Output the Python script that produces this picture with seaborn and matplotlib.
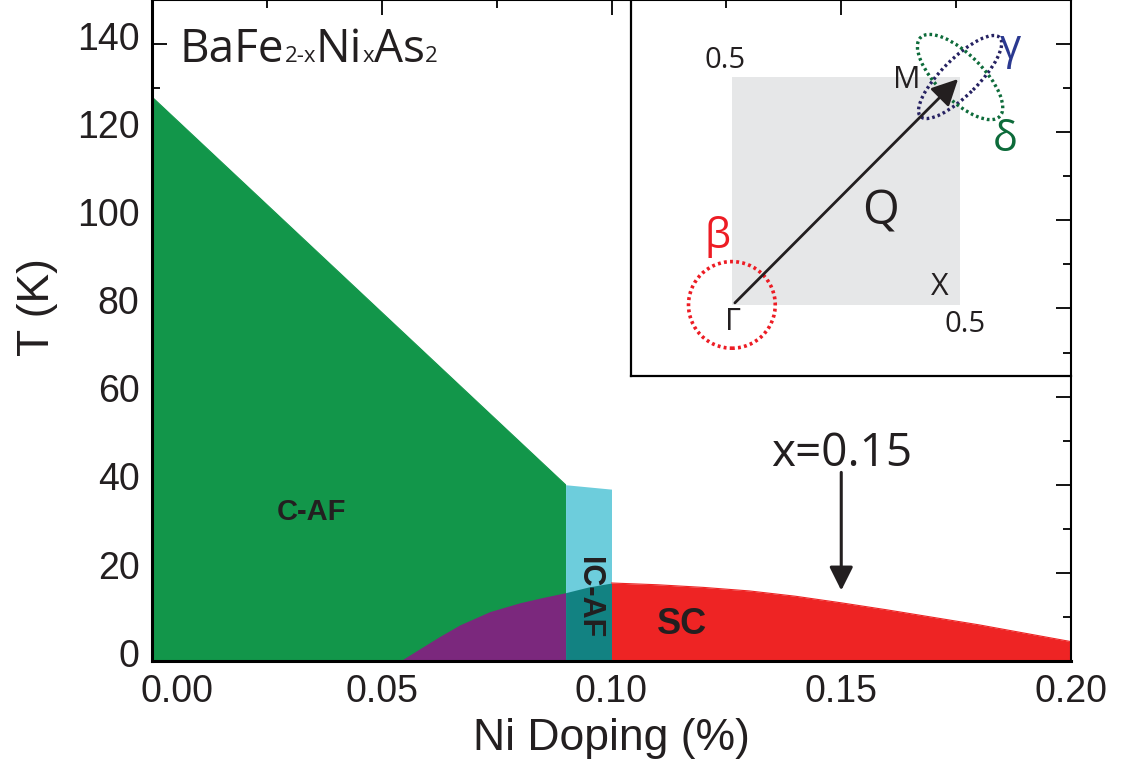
import numpy as np
import pandas as pd
import seaborn as sns
import matplotlib.pyplot as plt
import matplotlib.transforms as mtrans
from matplotlib.patches import Rectangle, Circle, Ellipse, FancyArrowPatch
from matplotlib.ticker import MultipleLocator, FormatStrFormatter

# ---------------- data ----------------
tn_x = [0.0, 0.09]            # commensurate AF (Tn) boundary
tn_T = [128.0, 40.0]
ic_x = [0.09, 0.10]           # incommensurate AF boundary
ic_T = [40.0, 39.0]
dome_x = [0.054, 0.058, 0.0625, 0.067, 0.0735, 0.08, 0.085, 0.09, 0.095, 0.10]
dome_T = [0.0, 2.6, 5.5, 8.2, 11.2, 13.2, 14.4, 15.5, 16.8, 17.7]
sc_x = [0.10, 0.11, 0.12, 0.13, 0.14, 0.15, 0.16, 0.17, 0.18, 0.19, 0.20]
sc_T = [17.7, 17.3, 16.7, 15.9, 14.7, 13.2, 11.6, 9.9, 8.2, 6.3, 4.4]
x_ticks = [0.00, 0.05, 0.10, 0.15, 0.20]
y_ticks = [0, 20, 40, 60, 80, 100, 120, 140]

C_GREEN = '#12964a'
C_PURPLE = '#7b287d'
C_CYAN = '#6dcddc'
C_TEAL = '#128282'
C_RED = '#ee2424'
C_TXT = '#231f20'

sns.set_theme(style='ticks')
plt.rcParams['font.family'] = ['Liberation Sans', 'DejaVu Sans']

fig = plt.figure(figsize=(11.25, 7.65), dpi=100)
ax = fig.add_axes([152/1125, 104/765, 919/1125, 661/765])

# ---------------- regions ----------------
ax.fill_between(tn_x, 0, tn_T, color=C_GREEN, lw=0, zorder=1)
ax.fill_between(ic_x, 0, ic_T, color=C_CYAN, lw=0, zorder=1)
dx = np.array(dome_x); dT = np.array(dome_T)
m1 = dx <= 0.09
m2 = dx >= 0.09
ax.fill_between(dx[m1], 0, dT[m1], color=C_PURPLE, lw=0, zorder=2)
ax.fill_between(dx[m2], 0, dT[m2], color=C_TEAL, lw=0, zorder=2)
ax.fill_between(sc_x, 0, sc_T, color=C_RED, lw=0, zorder=2)

df_tn = pd.DataFrame({'x': tn_x, 'T': tn_T})
df_sc = pd.DataFrame({'x': sc_x, 'T': sc_T})
sns.lineplot(data=df_tn, x='x', y='T', color=C_GREEN, lw=0.8, ax=ax, zorder=3)
sns.lineplot(data=df_sc, x='x', y='T', color=C_RED, lw=0.8, ax=ax, zorder=3)

# ---------------- axes ----------------
ax.set_xlim(0, 0.20)
ax.set_ylim(0, 150)
ax.set_xticks(x_ticks)
ax.set_yticks(y_ticks)
ax.xaxis.set_minor_locator(MultipleLocator(0.025))
ax.yaxis.set_minor_locator(MultipleLocator(10))
ax.xaxis.set_major_formatter(FormatStrFormatter('%.2f'))
ax.tick_params(which='both', direction='in', top=True, right=True, colors='black',
               labelcolor=C_TXT, labelsize=27)
ax.tick_params(which='major', length=11, width=1.3)
ax.tick_params(which='minor', length=6, width=1.3)
ax.tick_params(axis='x', which='major', pad=9)
ax.tick_params(axis='y', which='major', pad=9)
for s in ['left', 'bottom']:
    ax.spines[s].set_linewidth(2.2)
for s in ['top', 'right']:
    ax.spines[s].set_linewidth(1.5)
for s in ax.spines.values():
    s.set_color('black')
    s.set_zorder(5)

# nudge tick labels like the reference
yoff = mtrans.ScaledTranslation(0, 6/72, fig.dpi_scale_trans)
for lab in ax.get_yticklabels():
    lab.set_transform(lab.get_transform() + yoff)
xoff = mtrans.ScaledTranslation(18/72, 0, fig.dpi_scale_trans)
lab0 = ax.get_xticklabels()[0]
lab0.set_transform(lab0.get_transform() + xoff)

ax.set_xlabel('Ni Doping (%)', fontsize=32, color=C_TXT, va='center')
ax.xaxis.set_label_coords(0.5, -0.118)
ax.set_ylabel('T (K)', fontsize=32, color=C_TXT, va='center', ha='center')
ax.yaxis.set_label_coords(-0.125, 0.535)

# phase labels
ax.text(0.0348, 33.8, 'C-AF', fontsize=21, fontweight='bold', color=C_TXT,
        ha='center', va='center', zorder=6)
ax.text(0.1154, 8.2, 'SC', fontsize=26, fontweight='bold', color=C_TXT,
        ha='center', va='center', zorder=6)
ax.text(0.0952, 14.3, 'IC-AF', fontsize=22, fontweight='bold', color=C_TXT,
        ha='center', va='center', rotation=270, zorder=6)

# x = 0.15 marker
ax.text(0.15, 44.2, 'x=0.15', fontsize=33, family='Open Sans', color=C_TXT,
        ha='center', va='baseline', zorder=6)
ax.annotate('', xy=(0.15, 16.0), xytext=(0.15, 42.8),
            arrowprops=dict(arrowstyle='-|>', mutation_scale=36, lw=2.2,
                            color=C_TXT, shrinkA=0, shrinkB=0), zorder=6)

# ---------------- title with subscripts ----------------
fig.canvas.draw()
r = fig.canvas.get_renderer()
pieces = [('BaFe', 33), ('2-x', 16), ('Ni', 33), ('x', 16), ('As', 33), ('2', 16)]
xpos = 0.160
ybase = 1 - 62/765
for s, fs in pieces:
    t = fig.text(xpos, ybase, s, fontsize=fs, family='Open Sans', color=C_TXT,
                 ha='left', va='baseline', zorder=6)
    bb = t.get_window_extent(r)
    xpos = fig.transFigure.inverted().transform((bb.x1, bb.y0))[0]

# ---------------- inset (Brillouin zone) ----------------
ins = fig.add_axes([631/1125, 389/765, 440/1125, 376/765], zorder=10)
ins.patch.set_alpha(0.0)
ins.set_xlim(-0.221, 0.743)
ins.set_ylim(-0.156, 0.669)
ins.set_xticks([]); ins.set_yticks([])
for s in ['top', 'right']:
    ins.spines[s].set_visible(False)
for s in ['left', 'bottom']:
    ins.spines[s].set_linewidth(1.6)
    ins.spines[s].set_color('black')

ins.add_patch(Rectangle((0, 0), 0.5, 0.5, fc='#e6e7e8', ec='none', zorder=1))
ins.add_patch(Circle((0, 0), 0.095, fill=False, ec='#ed1c24', lw=2.6,
                     ls=(0, (0.8, 0.9)), zorder=3))
ins.add_patch(Ellipse((0.5, 0.5), 0.245, 0.08, angle=45, fill=False, ec='#262262',
                      lw=2.4, ls=(0, (0.8, 0.9)), zorder=3))
ins.add_patch(Ellipse((0.5, 0.5), 0.245, 0.10, angle=-45, fill=False, ec='#0d6b3a',
                      lw=2.4, ls=(0, (0.8, 0.9)), zorder=3))
ins.add_patch(FancyArrowPatch((0.0066, 0.0044), (0.4956, 0.4956), arrowstyle='-|>',
                              mutation_scale=40, lw=2.0, color=C_TXT,
                              shrinkA=0, shrinkB=0, zorder=4))

ins.text(-0.015, 0.537, '0.5', fontsize=21, family='Open Sans', color=C_TXT, ha='center', va='center')
ins.text(0.384, 0.493, 'M', fontsize=22, family='Open Sans', color=C_TXT, ha='center', va='center', zorder=5)
ins.text(0.61, 0.564, 'γ', fontsize=30, family='Open Sans', color='#2b3990', ha='center', va='center')
ins.text(0.599, 0.362, 'δ', fontsize=30, family='Open Sans', color='#0d6b3a', ha='center', va='center')
ins.text(0.325, 0.204, 'Q', fontsize=34, family='Open Sans', color=C_TXT, ha='center', va='center', zorder=5)
ins.text(-0.031, 0.149, 'β', fontsize=30, family='Open Sans', color='#ed1c24', ha='center', va='center')
ins.text(0.456, 0.039, 'X', fontsize=22, family='Open Sans', color=C_TXT, ha='center', va='center', zorder=5)
ins.text(0.511, -0.044, '0.5', fontsize=21, family='Open Sans', color=C_TXT, ha='center', va='center')
ins.text(0.002, -0.037, 'Γ', fontsize=22, family='Open Sans', color=C_TXT, ha='center', va='center', zorder=5)

fig.savefig('out.png', dpi=100)
